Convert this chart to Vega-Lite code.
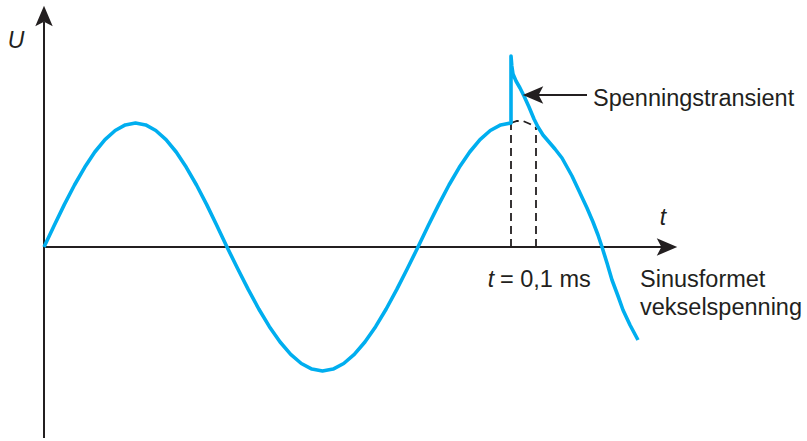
{
  "$schema": "https://vega.github.io/schema/vega-lite/v6.json",
  "width": 807,
  "height": 441,
  "padding": 0,
  "autosize": {"type": "fit", "contains": "padding"},
  "background": "white",
  "config": {"view": {"stroke": null}},
  "datasets": {
    "wave": [
      {"i": 0, "t": 0, "U": 0}, {"i": 1, "t": 10.2, "U": 21.5}, {"i": 2, "t": 20.3, "U": 42.4}, {"i": 3, "t": 30.5, "U": 62},
      {"i": 4, "t": 40.7, "U": 79.7}, {"i": 5, "t": 50.8, "U": 95}, {"i": 6, "t": 61, "U": 107.4}, {"i": 7, "t": 71.2, "U": 116.5},
      {"i": 8, "t": 81.3, "U": 122.1}, {"i": 9, "t": 91.5, "U": 124}, {"i": 10, "t": 101.7, "U": 122.1}, {"i": 11, "t": 111.8, "U": 116.5},
      {"i": 12, "t": 122, "U": 107.4}, {"i": 13, "t": 132.2, "U": 95}, {"i": 14, "t": 142.3, "U": 79.7}, {"i": 15, "t": 152.5, "U": 62},
      {"i": 16, "t": 162.7, "U": 42.4}, {"i": 17, "t": 172.8, "U": 21.5}, {"i": 18, "t": 183, "U": 0},
      {"i": 19, "t": 193.6, "U": -21.5}, {"i": 20, "t": 204.2, "U": -42.4}, {"i": 21, "t": 214.8, "U": -62}, {"i": 22, "t": 225.4, "U": -79.7},
      {"i": 23, "t": 236.1, "U": -95}, {"i": 24, "t": 246.7, "U": -107.4}, {"i": 25, "t": 257.3, "U": -116.5}, {"i": 26, "t": 267.9, "U": -122.1},
      {"i": 27, "t": 278.5, "U": -124}, {"i": 28, "t": 289.1, "U": -122.1}, {"i": 29, "t": 299.7, "U": -116.5}, {"i": 30, "t": 310.3, "U": -107.4},
      {"i": 31, "t": 320.9, "U": -95}, {"i": 32, "t": 331.6, "U": -79.7}, {"i": 33, "t": 342.2, "U": -62}, {"i": 34, "t": 352.8, "U": -42.4},
      {"i": 35, "t": 363.4, "U": -21.5}, {"i": 36, "t": 374, "U": 0},
      {"i": 37, "t": 384.3, "U": 21.5}, {"i": 38, "t": 394.7, "U": 42.4}, {"i": 39, "t": 405, "U": 62}, {"i": 40, "t": 415.3, "U": 79.7},
      {"i": 41, "t": 425.7, "U": 95}, {"i": 42, "t": 436, "U": 107.4}, {"i": 43, "t": 446.3, "U": 116.5}, {"i": 44, "t": 456.7, "U": 122.1},
      {"i": 45, "t": 467, "U": 124},
      {"i": 46, "t": 467, "U": 191}, {"i": 47, "t": 467.8, "U": 181}, {"i": 48, "t": 469, "U": 173}, {"i": 49, "t": 472, "U": 166},
      {"i": 50, "t": 476, "U": 159}, {"i": 51, "t": 480, "U": 151}, {"i": 52, "t": 485, "U": 140}, {"i": 53, "t": 490, "U": 128},
      {"i": 54, "t": 494, "U": 120}, {"i": 55, "t": 499, "U": 112}, {"i": 56, "t": 505, "U": 105}, {"i": 57, "t": 511, "U": 98},
      {"i": 58, "t": 518, "U": 89}, {"i": 59, "t": 528, "U": 71},
      {"i": 60, "t": 536, "U": 54}, {"i": 61, "t": 543, "U": 39}, {"i": 62, "t": 549, "U": 25}, {"i": 63, "t": 554, "U": 12},
      {"i": 64, "t": 558, "U": 0}, {"i": 65, "t": 563, "U": -16}, {"i": 66, "t": 568, "U": -33}, {"i": 67, "t": 574, "U": -49},
      {"i": 68, "t": 579, "U": -63}, {"i": 69, "t": 586, "U": -78}, {"i": 70, "t": 594, "U": -93}
    ],
    "arc": [
      {"i": 0, "t": 467, "U": 124}, {"i": 1, "t": 473, "U": 126}, {"i": 2, "t": 479, "U": 126}, {"i": 3, "t": 486, "U": 123}, {"i": 4, "t": 492, "U": 119}
    ],
    "rules": [
      {"t": 0, "t2": 0, "U": -191, "U2": 225},
      {"t": 0, "t2": 627, "U": 0, "U2": 0},
      {"t": 489, "t2": 543, "U": 152, "U2": 152}
    ],
    "dashrules": [
      {"t": 467, "t2": 467, "U": 0, "U2": 124},
      {"t": 492, "t2": 492, "U": 0, "U2": 119}
    ],
    "heads": [
      {"t": 0, "U": 231, "angle": 0},
      {"t": 623, "U": 0, "angle": 90},
      {"t": 489, "U": 152, "angle": 270}
    ],
    "italic": [
      {"t": -28, "U": 199, "label": "U"},
      {"t": 619, "U": 22, "label": "t"},
      {"t": 447, "U": -40, "label": "t"}
    ],
    "regular": [
      {"t": 456, "U": -40, "label": "= 0,1 ms"},
      {"t": 596, "U": -40, "label": "Sinusformet"},
      {"t": 596, "U": -68, "label": "vekselspenning"},
      {"t": 549, "U": 141, "label": "Spenningstransient"}
    ]
  },
  "layer": [
    {
      "data": {"name": "rules"},
      "mark": {"type": "rule", "color": "#231f20", "strokeWidth": 2},
      "encoding": {
        "x": {"field": "t", "type": "quantitative", "axis": null, "scale": {"domain": [-44, 763], "nice": false, "zero": false}},
        "x2": {"field": "t2"},
        "y": {"field": "U", "type": "quantitative", "axis": null, "scale": {"domain": [-194, 247], "nice": false, "zero": false}},
        "y2": {"field": "U2"}
      }
    },
    {
      "data": {"name": "dashrules"},
      "mark": {"type": "rule", "color": "#231f20", "strokeWidth": 1.8, "strokeDash": [8, 5]},
      "encoding": {
        "x": {"field": "t", "type": "quantitative", "axis": null, "scale": {"domain": [-44, 763], "nice": false, "zero": false}},
        "x2": {"field": "t2"},
        "y": {"field": "U", "type": "quantitative", "axis": null, "scale": {"domain": [-194, 247], "nice": false, "zero": false}},
        "y2": {"field": "U2"}
      }
    },
    {
      "data": {"name": "arc"},
      "mark": {"type": "line", "color": "#231f20", "strokeWidth": 1.8, "strokeDash": [8, 5]},
      "encoding": {
        "x": {"field": "t", "type": "quantitative", "axis": null, "scale": {"domain": [-44, 763], "nice": false, "zero": false}},
        "y": {"field": "U", "type": "quantitative", "axis": null, "scale": {"domain": [-194, 247], "nice": false, "zero": false}},
        "order": {"field": "i", "type": "quantitative"}
      }
    },
    {
      "data": {"name": "wave"},
      "mark": {"type": "line", "color": "#00aeef", "strokeWidth": 3.6, "strokeJoin": "round", "strokeCap": "butt"},
      "encoding": {
        "x": {"field": "t", "type": "quantitative", "axis": null, "scale": {"domain": [-44, 763], "nice": false, "zero": false}},
        "y": {"field": "U", "type": "quantitative", "axis": null, "scale": {"domain": [-194, 247], "nice": false, "zero": false}},
        "order": {"field": "i", "type": "quantitative"}
      }
    },
    {
      "data": {"name": "heads"},
      "mark": {"type": "point", "shape": "M0,-1L0.85,1L0,0.55L-0.85,1Z", "size": 420, "filled": true, "color": "#231f20", "opacity": 1, "strokeWidth": 0},
      "encoding": {
        "x": {"field": "t", "type": "quantitative", "axis": null, "scale": {"domain": [-44, 763], "nice": false, "zero": false}},
        "y": {"field": "U", "type": "quantitative", "axis": null, "scale": {"domain": [-194, 247], "nice": false, "zero": false}},
        "angle": {"field": "angle", "type": "quantitative", "scale": null}
      }
    },
    {
      "data": {"name": "italic"},
      "mark": {"type": "text", "font": "Liberation Sans", "fontSize": 23, "fontStyle": "italic", "color": "#231f20", "align": "center", "baseline": "alphabetic"},
      "encoding": {
        "x": {"field": "t", "type": "quantitative", "axis": null, "scale": {"domain": [-44, 763], "nice": false, "zero": false}},
        "y": {"field": "U", "type": "quantitative", "axis": null, "scale": {"domain": [-194, 247], "nice": false, "zero": false}},
        "text": {"field": "label"}
      }
    },
    {
      "data": {"name": "regular"},
      "mark": {"type": "text", "font": "Liberation Sans", "fontSize": 23.5, "color": "#231f20", "align": "left", "baseline": "alphabetic"},
      "encoding": {
        "x": {"field": "t", "type": "quantitative", "axis": null, "scale": {"domain": [-44, 763], "nice": false, "zero": false}},
        "y": {"field": "U", "type": "quantitative", "axis": null, "scale": {"domain": [-194, 247], "nice": false, "zero": false}},
        "text": {"field": "label"}
      }
    }
  ]
}
